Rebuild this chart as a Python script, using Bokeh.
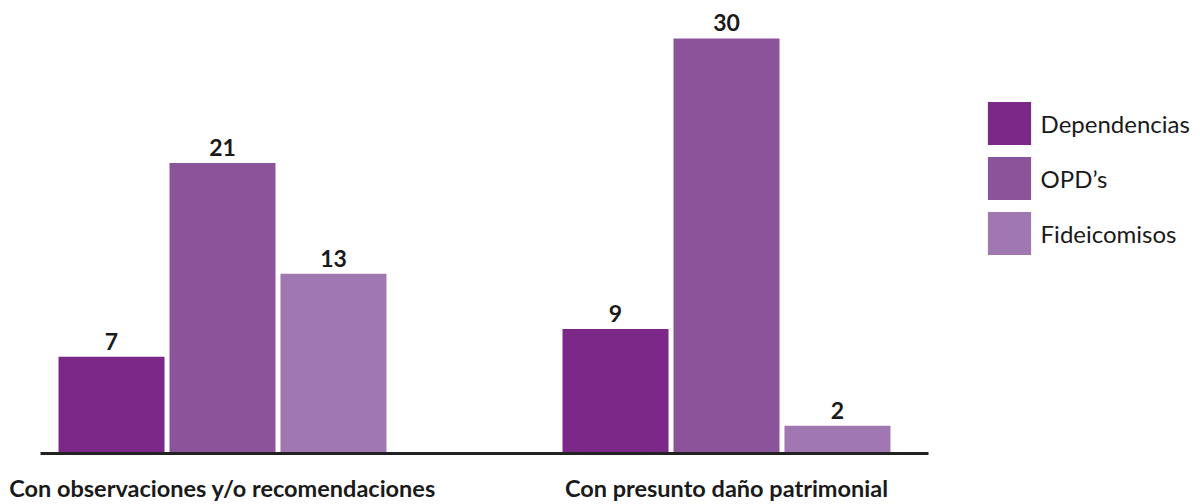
from bokeh.plotting import figure
from bokeh.models import ColumnDataSource, Range1d, FixedTicker, Legend, LegendItem, LabelSet
from bokeh.core.properties import value
from bokeh.embed import file_html
from bokeh.resources import INLINE

categories = ["Con observaciones y/o recomendaciones", "Con presunto daño patrimonial"]
series = ["Dependencias", "OPD’s", "Fideicomisos"]
dependencias = [7, 9]
opds = [21, 30]
fideicomisos = [13, 2]
colors = ["#7B2888", "#8B5399", "#A177B1"]

FONT = "Lato"

x_start = -0.3611
p = figure(width=1200, height=504, output_backend="svg", toolbar_location=None,
           x_range=Range1d(x_start, 1.9405), y_range=Range1d(0, 32.74),
           min_border_left=40, min_border_right=0, min_border_top=0, min_border_bottom=50)
p.outline_line_color = None
p.grid.visible = False
p.yaxis.visible = False
p.background_fill_color = None
p.border_fill_color = "white"

offsets = [-0.2202, 0.0, 0.2202]
bar_w = 0.2103
renderers = []
for name, vals, off, col in zip(series, [dependencias, opds, fideicomisos], offsets, colors):
    xs = [i + off for i in range(len(categories))]
    src = ColumnDataSource(dict(x=xs, top=vals, lab=[str(v) for v in vals]))
    r = p.vbar(x="x", top="top", bottom=0, width=bar_w, source=src, fill_color=col, line_color=None)
    renderers.append((name, r))
    p.add_layout(LabelSet(x="x", y="top", text="lab", source=src, text_align="center",
                          text_baseline="alphabetic", y_offset=7, text_font=value(FONT),
                          text_font_style="bold", text_font_size="23px", text_color="#1a1a1a"))

ax = p.xaxis[0]
ax.bounds = (x_start, 1.4008)
ax.ticker = FixedTicker(ticks=list(range(len(categories))))
ax.major_label_overrides = {i: c for i, c in enumerate(categories)}
ax.major_tick_line_color = None
ax.minor_tick_line_color = None
ax.major_tick_out = 0
ax.major_tick_in = 0
ax.axis_line_color = "#222222"
ax.axis_line_width = 3
ax.major_label_standoff = 20
ax.major_label_text_font = FONT
ax.major_label_text_font_style = "bold"
ax.major_label_text_font_size = "23.5px"
ax.major_label_text_color = "#1a1a1a"

legend = Legend(items=[LegendItem(label=n, renderers=[r]) for n, r in renderers],
                location=(941.6, 192.6), orientation="vertical",
                glyph_width=54, glyph_height=54, spacing=1, label_standoff=5,
                padding=0, margin=0, border_line_color=None, background_fill_alpha=0,
                label_text_font=FONT, label_text_font_size="24px", label_text_color="#1a1a1a",
                label_text_baseline="middle")
p.add_layout(legend, "center")

open("out.html", "w").write(file_html(p, INLINE))
